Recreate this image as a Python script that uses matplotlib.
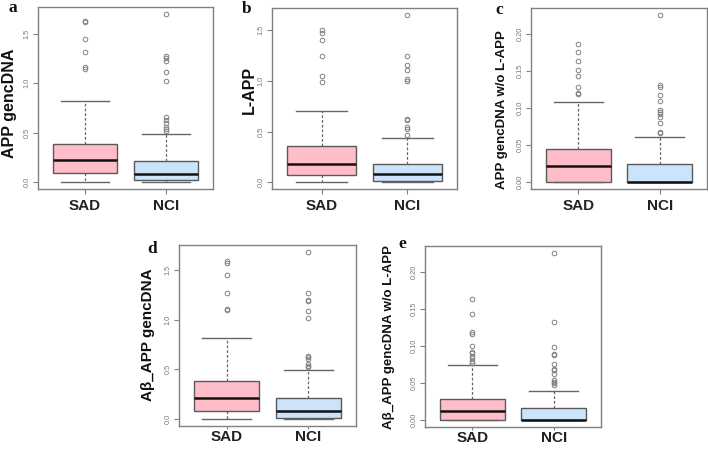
import matplotlib
matplotlib.use("Agg")
import matplotlib.pyplot as plt

plt.rcParams['font.family'] = ['Liberation Sans', 'DejaVu Sans']

W, H = 708, 449

groups = ["SAD", "NCI"]

# panel a: APP gencDNA
a_q1 = [0.095, 0.024]
a_med = [0.22, 0.085]
a_q3 = [0.39, 0.218]
a_lo = [0.0, 0.0]
a_hi = [0.82, 0.49]
a_fliers = [[1.63, 1.615, 1.45, 1.31, 1.16, 1.14],
            [1.70, 1.275, 1.25, 1.22, 1.11, 1.02, 0.66, 0.63, 0.60, 0.56, 0.54, 0.52]]

# panel b: L-APP
b_q1 = [0.073, 0.013]
b_med = [0.178, 0.079]
b_q3 = [0.356, 0.178]
b_lo = [0.0, 0.0]
b_hi = [0.70, 0.44]
b_fliers = [[1.50, 1.474, 1.40, 1.246, 1.048, 0.986],
            [1.65, 1.246, 1.154, 1.105, 1.015, 1.0, 0.626, 0.61, 0.544, 0.524, 0.462]]

# panel c: APP gencDNA w/o L-APP
c_q1 = [0.0, 0.0]
c_med = [0.0215, 0.0]
c_q3 = [0.0447, 0.0244]
c_lo = [0.0, 0.0]
c_hi = [0.108, 0.061]
c_fliers = [[0.187, 0.176, 0.164, 0.152, 0.143, 0.128, 0.121, 0.119],
            [0.226, 0.1315, 0.129, 0.118, 0.109, 0.098, 0.095, 0.092, 0.088, 0.080, 0.068, 0.066]]

# panel d: Abeta_APP gencDNA
d_q1 = [0.084, 0.017]
d_med = [0.21, 0.088]
d_q3 = [0.384, 0.215]
d_lo = [0.0, 0.0]
d_hi = [0.815, 0.49]
d_fliers = [[1.59, 1.565, 1.45, 1.27, 1.11, 1.095],
            [1.68, 1.27, 1.20, 1.19, 1.09, 1.017, 0.63, 0.62, 0.60, 0.55, 0.53, 0.52]]

# panel e: Abeta_APP gencDNA w/o L-APP
e_q1 = [0.0, 0.0]
e_med = [0.0127, 0.0]
e_q3 = [0.029, 0.0172]
e_lo = [0.0, 0.0]
e_hi = [0.075, 0.040]
e_fliers = [[0.163, 0.1435, 0.119, 0.1165, 0.100, 0.0925, 0.090, 0.0867, 0.0844, 0.080, 0.0776],
            [0.2257, 0.1327, 0.0989, 0.0894, 0.0876, 0.0758, 0.0695, 0.068, 0.0623, 0.054, 0.052, 0.0497, 0.0474]]

a_ticks = [0.0, 0.5, 1.0, 1.5]
c_ticks = [0.00, 0.05, 0.10, 0.15, 0.20]
a_ticklabels = ["0.0", "0.5", "1.0", "1.5"]
c_ticklabels = ["0.00", "0.05", "0.10", "0.15", "0.20"]

box_colors = ["#FFBDC9", "#CCE4FB"]
edge = "#5a5a5a"
frame = "#808080"

fig = plt.figure(figsize=(W / 100, H / 100), dpi=100)


def px_axes(left, top, right, bottom):
    return fig.add_axes([left / W, 1 - bottom / H, (right - left) / W, (bottom - top) / H])


def panel(rect, q1, med, q3, lo, hi, fliers, ticks, ticklabels, ylabel, ylab_xy, ylab_size,
          letter, letter_xy, xpad=4, xlen=3.5):
    ax = px_axes(*rect)
    stats = []
    for i in range(2):
        stats.append(dict(q1=q1[i], med=med[i], q3=q3[i], whislo=lo[i], whishi=hi[i],
                          fliers=fliers[i], label=groups[i]))
    bp = ax.bxp(stats, positions=[1, 2], widths=0.8, capwidths=0.6, patch_artist=True,
                showfliers=True,
                boxprops=dict(edgecolor=edge, linewidth=1.0),
                medianprops=dict(color="#111111", linewidth=1.8),
                whiskerprops=dict(color="#666666", linewidth=0.9, linestyle=(0, (2.2, 1.6))),
                capprops=dict(color="#666666", linewidth=1.0),
                flierprops=dict(marker="o", markersize=3.3, markerfacecolor="none",
                                markeredgecolor="#808080", markeredgewidth=0.7, linestyle="none"))
    for patch, col in zip(bp["boxes"], box_colors):
        patch.set_facecolor(col)
    allvals = [v for f in fliers for v in f] + list(hi) + list(lo)
    vmax, vmin = max(allvals), min(allvals)
    pad = (vmax - vmin) * 0.04
    ax.set_ylim(vmin - pad, vmax + pad)
    ax.set_xlim(0.5 - 0.08, 2.5 + 0.08)
    ax.set_yticks(ticks)
    ax.set_yticklabels(ticklabels, rotation=90, va="center", fontsize=5.3, color="#777777")
    ax.set_xticks([1, 2])
    ax.set_xticklabels(groups, fontsize=11, fontweight="bold", color="#222222")
    ax.tick_params(axis="y", length=3.5, width=0.8, color=frame, pad=2)
    ax.tick_params(axis="x", length=xlen, width=0.8, color=frame, pad=xpad)
    for s in ax.spines.values():
        s.set_color(frame)
        s.set_linewidth(1.0)
    fig.text(ylab_xy[0] / W, 1 - ylab_xy[1] / H, ylabel, rotation=90, ha="center", va="center",
             fontsize=ylab_size, fontweight="bold", color="#111111")
    fig.text(letter_xy[0] / W, 1 - letter_xy[1] / H, letter, ha="center", va="center",
             fontsize=12.5, fontweight="bold", family=["Liberation Serif", "DejaVu Serif"],
             color="#111111")
    return ax


panel((38, 7, 213, 189), a_q1, a_med, a_q3, a_lo, a_hi, a_fliers, a_ticks, a_ticklabels,
      "APP gencDNA", (10, 103), 11.5, "a", (13, 8))
panel((272, 8, 457, 189), b_q1, b_med, b_q3, b_lo, b_hi, b_fliers, a_ticks, a_ticklabels,
      "L-APP", (249, 90), 11.5, "b", (247, 9))
panel((531, 8, 707, 189), c_q1, c_med, c_q3, c_lo, c_hi, c_fliers, c_ticks, c_ticklabels,
      "APP gencDNA w/o L-APP", (502, 110), 9.5, "c", (499, 10))
panel((179, 245, 356, 426), d_q1, d_med, d_q3, d_lo, d_hi, d_fliers, a_ticks, a_ticklabels,
      "Aβ_APP gencDNA", (148, 335), 11, "d", (152, 249), xpad=0.5, xlen=2.5)
panel((425, 246, 601, 427), e_q1, e_med, e_q3, e_lo, e_hi, e_fliers, c_ticks, c_ticklabels,
      "Aβ_APP gencDNA w/o L-APP", (389, 337), 9.5, "e", (402, 244), xpad=0.5, xlen=2.5)

fig.savefig("out.png", dpi=100)
